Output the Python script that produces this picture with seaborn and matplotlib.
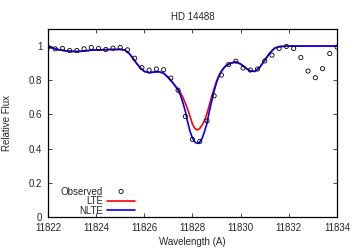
import matplotlib
matplotlib.use("Agg")
import matplotlib.pyplot as plt
import pandas as pd
import seaborn as sns

# observed spectrum (0.3 A sampling)
obs_wave = [11822.0, 11822.3, 11822.6, 11822.9, 11823.2, 11823.5, 11823.8, 11824.1,
            11824.4, 11824.7, 11825.0, 11825.3, 11825.6, 11825.9, 11826.2, 11826.5,
            11826.8, 11827.1, 11827.4, 11827.7, 11828.0, 11828.3, 11828.6, 11828.9,
            11829.2, 11829.5, 11829.8, 11830.1, 11830.4, 11830.7, 11831.0, 11831.3,
            11831.6, 11831.9, 11832.2, 11832.5, 11832.8, 11833.1, 11833.4, 11833.7,
            11834.0]
obs_flux = [0.994, 0.984, 0.986, 0.974, 0.974, 0.984, 0.992, 0.986, 0.980, 0.988,
            0.992, 0.978, 0.929, 0.874, 0.859, 0.866, 0.862, 0.813, 0.742, 0.588,
            0.454, 0.442, 0.562, 0.709, 0.831, 0.892, 0.912, 0.872, 0.860, 0.866,
            0.913, 0.947, 0.986, 0.998, 0.986, 0.933, 0.854, 0.815, 0.868, 0.956,
            0.994]

# synthetic spectra: blue wing, line core, red wing
wing_l_wave = [11822.0, 11822.2, 11822.4, 11822.6, 11822.8, 11823.0, 11823.2, 11823.4,
               11823.6, 11823.8, 11824.0, 11824.2, 11824.4, 11824.6, 11824.8, 11825.0,
               11825.2, 11825.4, 11825.6, 11825.8, 11826.0, 11826.2, 11826.4, 11826.6,
               11826.8, 11827.0]
wing_l_flux = [0.997, 0.988, 0.980, 0.975, 0.971, 0.969, 0.968, 0.970, 0.973, 0.976,
               0.978, 0.978, 0.979, 0.980, 0.980, 0.981, 0.976, 0.953, 0.914, 0.877,
               0.852, 0.844, 0.848, 0.850, 0.842, 0.815]
core_wave = [11827.1, 11827.2, 11827.3, 11827.4, 11827.5, 11827.6, 11827.7, 11827.8,
             11827.9, 11828.0, 11828.1, 11828.2, 11828.3, 11828.4, 11828.5, 11828.6,
             11828.7, 11828.8, 11828.9, 11829.0, 11829.1, 11829.2, 11829.3, 11829.4]
core_nlte = [0.800, 0.782, 0.763, 0.742, 0.712, 0.670, 0.620, 0.555, 0.500, 0.462,
             0.438, 0.430, 0.438, 0.460, 0.500, 0.548, 0.618, 0.680, 0.738, 0.788,
             0.825, 0.852, 0.872, 0.887]
core_lte = [0.800, 0.783, 0.765, 0.748, 0.727, 0.700, 0.668, 0.630, 0.588, 0.543,
            0.518, 0.509, 0.518, 0.538, 0.565, 0.605, 0.655, 0.705, 0.752, 0.795,
            0.828, 0.853, 0.872, 0.887]
wing_r_wave = [11829.6, 11829.8, 11830.0, 11830.2, 11830.4, 11830.6, 11830.8, 11831.0,
               11831.2, 11831.4, 11831.6, 11831.8, 11832.0, 11832.2, 11832.4, 11832.6,
               11832.8, 11833.0, 11833.2, 11833.4, 11833.6, 11833.8, 11834.0]
wing_r_flux = [0.900, 0.908, 0.895, 0.873, 0.854, 0.852, 0.877, 0.918, 0.958, 0.987,
               0.997, 0.999, 1.000, 1.000, 1.000, 1.000, 1.000, 1.000, 1.000, 1.000,
               1.000, 1.000, 1.000]

model_wave = wing_l_wave + core_wave + wing_r_wave
lte_flux = wing_l_flux + core_lte + wing_r_flux
nlte_flux = wing_l_flux + core_nlte + wing_r_flux

sns.set_style("ticks", {"xtick.direction": "in", "ytick.direction": "in"})
plt.rcParams["font.family"] = ["Liberation Sans", "DejaVu Sans"]
plt.rcParams["font.size"] = 7

obs = pd.DataFrame({"wave": obs_wave, "flux": obs_flux})
model = pd.DataFrame({"wave": model_wave, "LTE": lte_flux, "NLTE": nlte_flux})

fig = plt.figure(figsize=(3.56, 2.49), dpi=100)
ax = fig.add_axes([0.1348, 0.1285, 0.8118, 0.755])

sns.scatterplot(data=obs, x="wave", y="flux", ax=ax, marker="o", s=9,
                facecolor="none", edgecolor="black", linewidth=0.6,
                label="Observed", zorder=3)
sns.lineplot(data=model, x="wave", y="LTE", ax=ax, color="#ff0000",
             linewidth=1.2, label="LTE", zorder=2)
sns.lineplot(data=model, x="wave", y="NLTE", ax=ax, color="#0000ff",
             linewidth=1.2, label="NLTE", zorder=2)

ax.set_xlim(11822, 11834)
ax.set_ylim(0, 1.1)
ax.set_xticks([11822, 11824, 11826, 11828, 11830, 11832, 11834])
ax.set_yticks([0, 0.2, 0.4, 0.6, 0.8, 1.0])
ax.set_yticklabels(["0", "0.2", "0.4", "0.6", "0.8", "1"])
ax.xaxis.set_major_formatter(matplotlib.ticker.FormatStrFormatter("%d"))
ax.tick_params(direction="in", top=True, right=True, length=3, width=0.6,
               labelsize=7)
ax.tick_params(axis="x", pad=4.5)
ax.tick_params(axis="y", pad=4)
for sp in ax.spines.values():
    sp.set_linewidth(0.9)
    sp.set_color("black")

ax.set_xlabel("Wavelength (A)", fontsize=7, labelpad=2.5)
ax.set_ylabel("Relative Flux", fontsize=7, labelpad=12)
ax.set_title("HD 14488", fontsize=7, pad=6.5)

ax.legend(loc="lower right", bbox_to_anchor=(0.322, -0.025), frameon=False,
          markerfirst=False, handlelength=2.9, handletextpad=0.4,
          labelspacing=-0.05, borderpad=0.1, fontsize=7,
          scatterpoints=1, scatteryoffsets=[0.5])

fig.savefig("out.png", dpi=100)
